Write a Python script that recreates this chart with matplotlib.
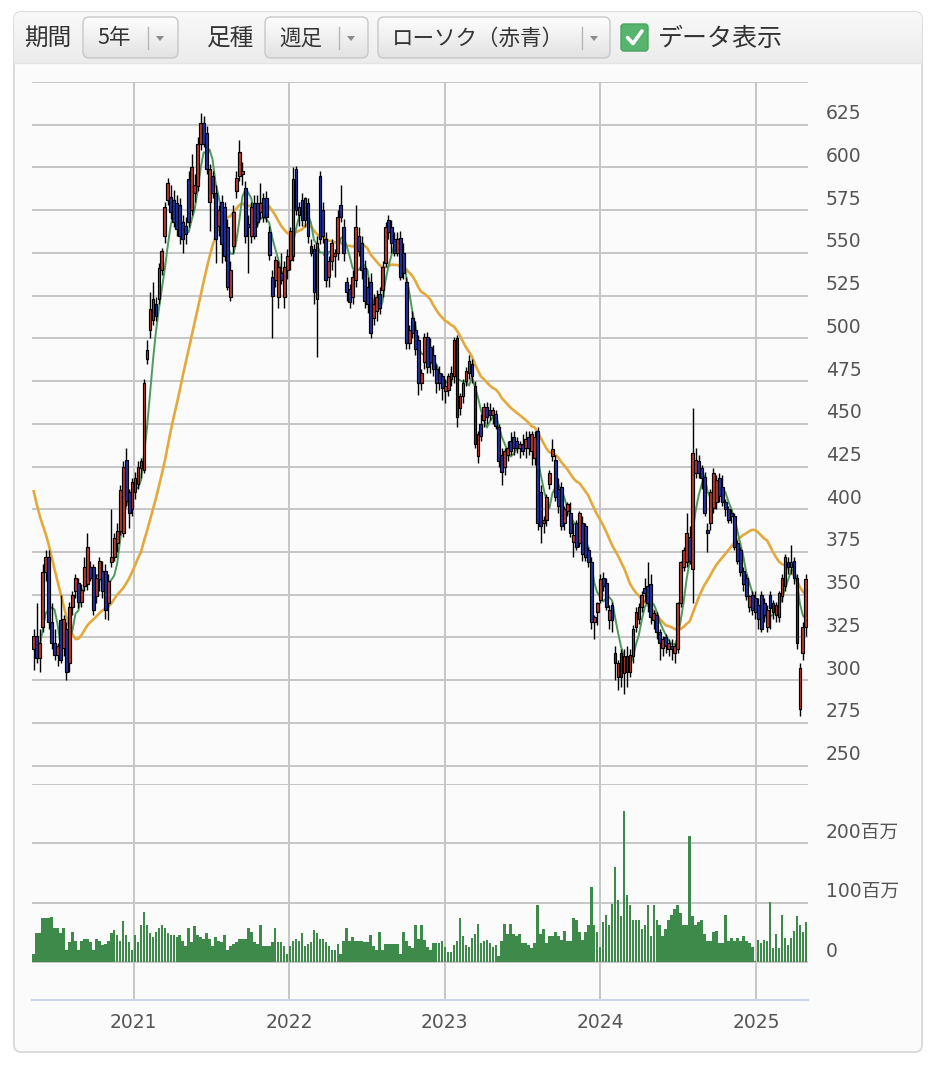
import matplotlib
matplotlib.use('Agg')
import matplotlib.pyplot as plt
import matplotlib.dates as mdates
from matplotlib.patches import Rectangle, FancyBboxPatch, Polygon
from matplotlib.colors import LinearSegmentedColormap
from matplotlib.transforms import offset_copy
import numpy as np
import pandas as pd

plt.rcParams['font.family'] = ['DejaVu Sans', 'Noto Sans CJK JP']

# weekly candles, first week starting 2020-05-11
opens = [318, 326, 313, 331, 363, 372, 334, 322, 315, 335, 319, 330, 310, 343, 352, 357, 346, 355, 356, 366,
         366, 349, 359, 364, 364, 345, 369, 372, 380, 387, 386, 429, 410, 400, 410, 415, 424, 423, 488, 505,
         511, 520, 523, 540, 560, 581, 583, 581, 579, 578, 568, 566, 593, 575, 585, 589, 614, 626, 620, 580,
         595, 585, 566, 580, 577, 565, 524, 554, 586, 595, 596, 588, 567, 560, 579, 579, 574, 582, 582, 562,
         536, 534, 524, 538, 524, 540, 546, 548, 599, 572, 581, 569, 579, 554, 552, 523, 595, 575, 558, 536,
         545, 548, 550, 578, 565, 533, 529, 524, 534, 560, 556, 541, 530, 533, 512, 516, 526, 528, 544, 569,
         565, 558, 550, 559, 550, 533, 497, 512, 505, 499, 474, 486, 501, 495, 490, 482, 480, 478, 469, 470,
         476, 478, 500, 459, 466, 475, 480, 485, 472, 431, 450, 452, 460, 458, 455, 456, 448, 432, 425, 432,
         440, 442, 440, 436, 438, 436, 442, 434, 430, 446, 410, 392, 394, 415, 431, 429, 412, 413, 392, 399,
         398, 381, 392, 380, 392, 390, 376, 369, 334, 340, 347, 360, 357, 335, 344, 316, 302, 316, 304, 314,
         305, 314, 331, 336, 343, 354, 355, 356, 335, 338, 328, 319, 325, 318, 320, 316, 318, 345, 366, 369,
         384, 365, 421, 428, 424, 419, 388, 392, 401, 404, 418, 413, 404, 400, 398, 396, 380, 376, 364, 360,
         343, 350, 348, 344, 350, 345, 331, 350, 345, 338, 337, 349, 355, 369, 366, 370, 360, 283, 316, 331]
highs = [330, 345, 330, 368, 376, 376, 345, 330, 322, 350, 338, 334, 346, 352, 362, 360, 356, 372, 386, 370,
         368, 362, 372, 370, 368, 362, 400, 386, 392, 414, 428, 436, 412, 418, 422, 428, 430, 476, 499, 527,
         533, 524, 544, 553, 580, 594, 590, 587, 584, 582, 572, 571, 598, 608, 596, 618, 632, 630, 624, 602,
         598, 590, 578, 584, 580, 570, 545, 578, 598, 616, 603, 592, 572, 580, 584, 584, 591, 585, 586, 566,
         540, 548, 545, 550, 545, 552, 565, 600, 601, 580, 585, 583, 582, 558, 555, 560, 598, 580, 562, 548,
         558, 552, 575, 590, 570, 536, 532, 540, 578, 565, 560, 546, 536, 538, 526, 528, 530, 545, 568, 572,
         569, 562, 562, 563, 556, 536, 508, 516, 510, 502, 482, 503, 504, 500, 496, 485, 484, 480, 476, 480,
         484, 501, 502, 468, 476, 483, 490, 488, 475, 446, 456, 462, 463, 462, 460, 458, 450, 436, 436, 440,
         445, 446, 442, 440, 444, 446, 446, 446, 446, 448, 414, 396, 409, 423, 441, 432, 418, 416, 402, 404,
         404, 392, 394, 399, 396, 392, 378, 372, 338, 346, 362, 363, 360, 344, 346, 320, 312, 318, 318, 320,
         318, 332, 343, 345, 352, 360, 369, 362, 341, 340, 330, 326, 327, 324, 324, 322, 346, 370, 378, 398,
         390, 459, 436, 432, 426, 422, 392, 412, 424, 420, 421, 420, 406, 402, 400, 398, 382, 378, 366, 362,
         350, 352, 352, 348, 352, 348, 344, 352, 347, 346, 352, 362, 374, 372, 379, 372, 362, 310, 334, 362]
lows = [306, 310, 305, 328, 358, 330, 318, 312, 308, 310, 314, 300, 305, 338, 348, 342, 343, 352, 353, 358,
        338, 345, 352, 348, 336, 335, 366, 370, 375, 385, 384, 402, 389, 396, 406, 412, 418, 421, 485, 500,
        508, 510, 520, 537, 556, 578, 570, 565, 560, 555, 550, 555, 565, 572, 580, 586, 610, 612, 596, 563,
        582, 544, 560, 544, 545, 528, 522, 550, 582, 592, 590, 556, 538, 556, 558, 565, 570, 568, 568, 546,
        500, 530, 518, 532, 518, 535, 540, 545, 572, 566, 566, 565, 556, 548, 520, 489, 555, 556, 530, 530,
        540, 536, 546, 568, 545, 522, 518, 520, 530, 548, 535, 518, 515, 500, 508, 510, 514, 524, 542, 558,
        550, 548, 548, 534, 535, 494, 494, 500, 490, 467, 470, 482, 480, 480, 478, 468, 470, 464, 462, 466,
        472, 474, 448, 455, 462, 472, 476, 474, 436, 427, 440, 448, 450, 452, 450, 447, 425, 414, 420, 428,
        432, 432, 433, 430, 432, 430, 432, 426, 426, 388, 380, 386, 390, 412, 428, 405, 398, 388, 388, 396,
        384, 372, 376, 378, 370, 370, 366, 330, 324, 332, 345, 352, 341, 330, 328, 300, 294, 296, 292, 296,
        302, 310, 328, 333, 340, 346, 340, 333, 330, 324, 312, 314, 316, 314, 312, 310, 316, 343, 364, 366,
        368, 345, 418, 418, 412, 396, 375, 388, 398, 400, 404, 402, 396, 392, 392, 376, 368, 361, 352, 347,
        340, 338, 336, 330, 328, 334, 328, 330, 336, 334, 334, 346, 352, 362, 362, 356, 318, 279, 312, 326]
closes = [326, 313, 322, 363, 372, 334, 322, 315, 320, 312, 336, 305, 343, 350, 360, 346, 353, 366, 378, 360,
          341, 360, 370, 352, 341, 358, 372, 383, 387, 411, 425, 405, 398, 416, 418, 425, 428, 474, 493, 517,
          523, 513, 541, 551, 577, 591, 574, 568, 564, 560, 558, 561, 568, 600, 590, 614, 626, 614, 599, 599,
          585, 558, 575, 555, 548, 530, 540, 574, 594, 609, 598, 560, 565, 577, 560, 568, 579, 571, 571, 549,
          525, 546, 542, 534, 542, 548, 563, 593, 575, 577, 569, 582, 560, 550, 527, 556, 558, 560, 534, 545,
          556, 550, 571, 571, 550, 527, 521, 536, 565, 551, 540, 522, 520, 503, 520, 524, 518, 542, 565, 562,
          556, 550, 558, 536, 538, 497, 505, 503, 494, 474, 480, 501, 483, 486, 482, 474, 474, 471, 472, 478,
          480, 499, 454, 466, 474, 481, 487, 478, 438, 444, 443, 460, 454, 455, 458, 449, 428, 422, 434, 436,
          434, 436, 436, 438, 434, 441, 436, 444, 442, 392, 390, 394, 407, 421, 435, 407, 402, 390, 400, 403,
          386, 385, 378, 398, 374, 372, 369, 334, 337, 345, 359, 355, 343, 341, 335, 310, 310, 302, 314, 305,
          315, 330, 340, 343, 350, 351, 345, 337, 339, 328, 322, 324, 320, 322, 318, 320, 345, 369, 376, 386,
          370, 433, 429, 421, 418, 398, 386, 410, 421, 417, 408, 404, 400, 394, 396, 378, 370, 363, 356, 349,
          349, 341, 340, 336, 330, 338, 341, 342, 340, 344, 351, 360, 372, 366, 369, 360, 322, 307, 331, 359]
# closes of the 25 weeks before the window (only feed the moving averages)
pre_closes = [505, 498, 510, 502, 495, 508, 512, 500, 497, 505, 495, 488, 470, 430,
              340, 300, 290, 305, 310, 300, 315, 320, 312, 318, 322]
# weekly volume, millions of shares
volumes = [14, 49, 49, 74, 74, 74, 76, 58, 58, 49, 58, 21, 33, 51, 36, 21, 36, 39, 39, 33,
           21, 39, 36, 29, 31, 36, 49, 54, 45, 36, 70, 45, 33, 21, 45, 33, 63, 85, 63, 49,
           43, 51, 58, 63, 58, 49, 45, 45, 43, 45, 36, 27, 58, 33, 61, 45, 43, 39, 49, 39,
           27, 42, 36, 33, 45, 21, 27, 30, 33, 39, 39, 39, 58, 51, 33, 30, 63, 27, 27, 27,
           33, 58, 33, 33, 27, 14, 27, 36, 39, 36, 49, 27, 31, 33, 54, 49, 39, 39, 33, 27,
           21, 21, 30, 14, 36, 58, 36, 42, 36, 36, 36, 33, 33, 45, 27, 21, 51, 21, 30, 30,
           30, 30, 30, 14, 51, 36, 27, 24, 63, 39,
           62, 37, 26, 21, 32, 32, 32, 35, 26, 17, 17, 29, 35, 74, 44, 29, 26, 41, 47, 65,
           32, 35, 38, 32, 26, 29, 11, 35, 65, 47, 65, 47, 44, 47, 32, 32, 29, 23, 32, 96,
           47, 56, 32, 44, 44, 50, 44, 38, 53, 35, 35, 74, 71, 50, 38, 50, 62, 126, 62, 50,
           26, 68, 80, 62, 98, 161, 104, 77, 255, 113, 96, 71, 71, 71, 56, 62, 96, 44, 96, 71,
           62, 44, 56, 71, 80, 89, 96, 83, 62, 62, 213, 77, 62, 68, 71, 47, 35, 35, 50, 53,
           32, 32, 80, 35, 41, 35, 41, 35, 44, 35, 32, 26, 1, 38, 32, 38, 35, 102, 23, 47,
           23, 80, 41, 29, 41, 53, 77, 62, 50, 68]

price_ticks = [250, 275, 300, 325, 350, 375, 400, 425, 450, 475, 500, 525, 550, 575, 600, 625, 650]
price_labels = ['250', '275', '300', '325', '350', '375', '400', '425', '450', '475', '500', '525',
                '550', '575', '600', '625', '']
vol_ticks = [0, 100, 200, 300]
vol_labels = ['0', '100百万', '200百万', '']
years = [2021, 2022, 2023, 2024, 2025]
ma_short, ma_long = 5, 26

W, H = 936, 1074
weeks = pd.date_range('2020-05-11', periods=len(closes), freq='7D')
xs = mdates.date2num(weeks)
x_left = mdates.date2num(pd.Timestamp('2020-05-07'))
x_right = mdates.date2num(pd.Timestamp('2025-05-03'))
year_x = [mdates.date2num(pd.Timestamp(f'{y}-01-01')) for y in years]

all_close = pd.Series(pre_closes + closes, dtype=float)
ma_s = all_close.rolling(ma_short).mean().values[len(pre_closes):]
ma_l = all_close.rolling(ma_long).mean().values[len(pre_closes):]

fig = plt.figure(figsize=(W / 100, H / 100), dpi=100)
fig.patch.set_facecolor('white')

# background canvas in pixel coordinates
bg = fig.add_axes([0, 0, 1, 1])
bg.axis('off')

panel = FancyBboxPatch((14, 12), 908, 1040, boxstyle='round,pad=0,rounding_size=7',
                       fc='#fbfbfb', ec='#d6d6d6', lw=1.2, zorder=1)
bg.add_patch(panel)
head_cmap = LinearSegmentedColormap.from_list('head', ['#f9f9f9', '#ececec'])
im = bg.imshow(np.linspace(0, 1, 60).reshape(-1, 1), cmap=head_cmap, extent=[14, 922, 63, 12],
               aspect='auto', zorder=1.5)
im.set_clip_path(panel)
bg.plot([14, 922], [63, 63], color='#e4e4e4', lw=1, zorder=1.6)

jp = ['Noto Sans CJK JP', 'DejaVu Sans']
btn_cmap = LinearSegmentedColormap.from_list('btn', ['#fefefe', '#e2e2e2'])


def dropdown(x0, x1, label, sep_x):
    box = FancyBboxPatch((x0, 17), x1 - x0, 41, boxstyle='round,pad=0,rounding_size=6',
                         fc='none', ec='#c8c8c8', lw=1, zorder=3)
    bg.add_patch(box)
    g = bg.imshow(np.linspace(0, 1, 40).reshape(-1, 1), cmap=btn_cmap,
                  extent=[x0, x1, 58, 17], aspect='auto', zorder=2)
    g.set_clip_path(box)
    bg.text(x0 + 14, 38.5, label, fontsize=15.5, family=jp, color='#333333', va='center', ha='left', zorder=4)
    bg.plot([sep_x, sep_x], [27, 49], color='#b8b8b8', lw=1, zorder=4)
    bg.add_patch(Polygon([[sep_x + 8, 36], [sep_x + 16, 36], [sep_x + 12, 41]], closed=True,
                         fc='#8c8c8c', ec='none', zorder=4))


bg.text(24, 38.5, '期間', fontsize=17, family=jp, color='#333333', va='center', ha='left', zorder=4)
dropdown(83, 178, '5年', 148)
bg.text(207, 38.5, '足種', fontsize=17, family=jp, color='#333333', va='center', ha='left', zorder=4)
dropdown(265, 368, '週足', 339)
dropdown(378, 610, 'ローソク（赤青）', 582)
bg.add_patch(FancyBboxPatch((621, 24), 27, 27, boxstyle='round,pad=0,rounding_size=3',
                            fc='#57b46e', ec='#4aa461', lw=1, zorder=3))
bg.plot([627.5, 633, 642], [37.5, 43.5, 31], color='white', lw=2.6, solid_capstyle='round',
        solid_joinstyle='round', zorder=4)
bg.text(658, 38.5, 'データ表示', fontsize=18, family=jp, color='#333333', va='center', ha='left', zorder=4)

bg.set_xlim(0, W)
bg.set_ylim(H, 0)

grid_kw = dict(color='#c6c6c6', lw=1.4)

# price panel
ax = fig.add_axes([32 / W, 1 - 784 / H, 776 / W, 702 / H])
ax.set_facecolor('none')
ax.set_xlim(x_left, x_right)
ax.set_ylim(650 - 702 / 1.709, 650)
ax.set_yticks(price_ticks)
ax.set_xticks(year_x)
ax.grid(True, **grid_kw)
ax.set_axisbelow(True)
ax.tick_params(length=0, labelleft=False, labelbottom=False)
for s in ax.spines.values():
    s.set_visible(False)

ax.plot(xs, ma_l, color='#e3a93c', lw=1.9, zorder=2)
ax.plot(xs, ma_s, color='#4e9a5d', lw=1.4, zorder=2)

bw = 6.6
for xi, o, h, l, c in zip(xs, opens, highs, lows, closes):
    col = '#c03a2b' if c >= o else '#2331ac'
    ax.vlines(xi, l, h, color='black', lw=1.0, zorder=3)
    ax.add_patch(Rectangle((xi - bw / 2, min(o, c)), bw, max(abs(c - o), 0.8),
                           fc=col, ec='black', lw=0.85, zorder=4))

lab_tr = offset_copy(ax.get_yaxis_transform(), fig=fig, x=18, y=11, units='dots')
for v, t in zip(price_ticks, price_labels):
    ax.text(1, v, t, transform=lab_tr, fontsize=13.5, color='#555555', ha='left', va='center', clip_on=False)

# volume panel
axv = fig.add_axes([32 / W, 1 - 1000 / H, 776 / W, 216 / H])
axv.set_facecolor('none')
axv.set_xlim(x_left, x_right)
axv.set_ylim(-38 / 0.595, (962 - 784) / 0.595)
axv.set_yticks(vol_ticks)
axv.set_xticks(year_x)
axv.grid(True, **grid_kw)
axv.set_axisbelow(True)
axv.tick_params(length=0, labelleft=False, labelbottom=False)
for s in axv.spines.values():
    s.set_visible(False)
axv.spines['bottom'].set_visible(True)
axv.spines['bottom'].set_color('#ccd6eb')
axv.spines['bottom'].set_linewidth(1.5)

axv.bar(xs, volumes, width=6.1, color='#3d8a4b', zorder=3)

vlab_tr = offset_copy(axv.get_yaxis_transform(), fig=fig, x=18, y=11, units='dots')
for v, t in zip(vol_ticks, vol_labels):
    axv.text(1, v, t, transform=vlab_tr, fontsize=13.5, color='#555555', ha='left', va='center',
             clip_on=False)

ylab_tr = offset_copy(axv.get_xaxis_transform(), fig=fig, x=0, y=-22, units='dots')
for yx, y in zip(year_x, years):
    axv.text(yx, 0, str(y), transform=ylab_tr, fontsize=13.5, color='#555555', ha='center', va='center',
             clip_on=False)

fig.savefig('out.png', dpi=100)
